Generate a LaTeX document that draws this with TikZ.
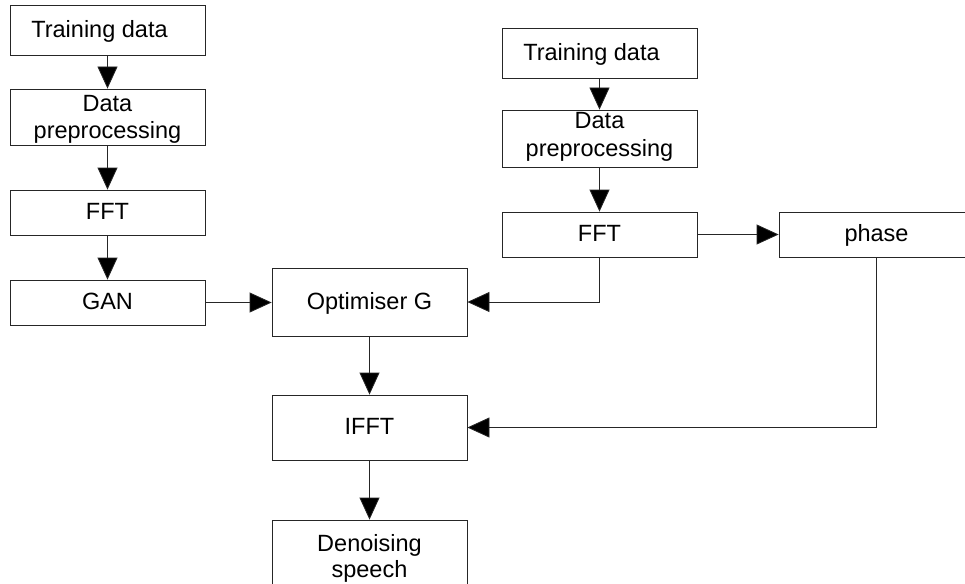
\documentclass[tikz,border=0pt]{standalone}
\usepackage{fontspec}
\setmainfont{Liberation Sans}
\usetikzlibrary{arrows.meta}
\newcommand{\twoline}[2]{{\fontsize{23.5}{#1}\selectfont\begin{tabular}[b]{@{}c@{}}#2\end{tabular}}}
\begin{document}
\begin{tikzpicture}[x=1pt,y=-1pt,
  box/.style={draw=black!85, line width=0.8pt, minimum width=195pt, inner sep=0pt,
    text depth=0pt, text height=14.6pt,
    font=\fontsize{23.5}{27}\selectfont},
  flow/.style={draw=black!85, line width=0.8pt, -{Triangle[length=22pt,width=20pt,fill=black]}}]
\useasboundingbox (0,0) rectangle (965,583);
\clip (0,0) rectangle (965,583);
% left column
\node[box, minimum height=50pt] (td1) at (107.5,30) {Training data\hspace*{16pt}};
\node[box, minimum height=56pt, text height=42.6pt] (dp1) at (107.5,117) {\twoline{26.6pt}{Data\\preprocessing}};
\node[box, minimum height=45pt] (fft1) at (107.5,212.5) {FFT};
\node[box, minimum height=45pt] (gan) at (107.5,302.5) {GAN};
% right column
\node[box, minimum height=50pt] (td2) at (599.5,53) {Training data\hspace*{16pt}};
\node[box, minimum height=57pt, text height=35.6pt] (dp2) at (599.5,138.5) {\twoline{27.5pt}{Data\\preprocessing}};
\node[box, minimum height=45pt] (fft2) at (599.5,234.5) {FFT};
\node[box, minimum height=45pt] (phase) at (876.5,234.5) {phase};
% middle column
\node[box, minimum height=68pt] (opt) at (369.5,302) {Optimiser G};
\node[box, minimum height=65pt] (ifft) at (369.5,427.5) {IFFT};
\node[box, minimum height=66pt, text height=48pt] (den) at (369.5,553) {\twoline{26pt}{Denoising\\speech}};
% connectors
\draw[flow] (td1) -- (dp1);
\draw[flow] (dp1) -- (fft1);
\draw[flow] (fft1) -- (gan);
\draw[flow] (gan.east) -- (gan.east -| opt.west);
\draw[flow] (td2) -- (dp2);
\draw[flow] (dp2) -- (fft2);
\draw[flow] (fft2) -- (phase);
\draw[flow] (fft2.south) |- (opt.east);
\draw[flow] (phase.south) |- (ifft.east);
\draw[flow] (opt) -- (ifft);
\draw[flow] (ifft) -- (den);
\end{tikzpicture}
\end{document}
